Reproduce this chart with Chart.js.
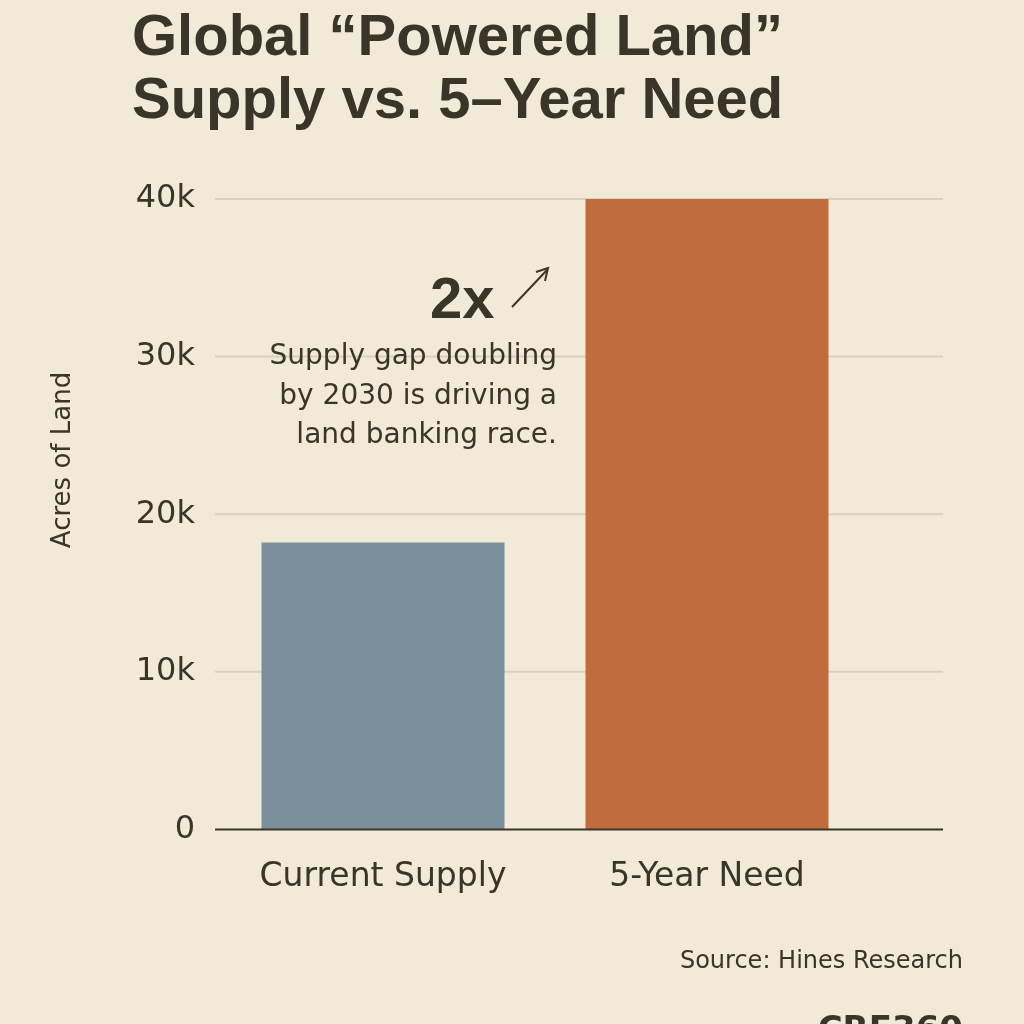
<!DOCTYPE html>
<html><head><meta charset="utf-8">
<script src="https://cdn.jsdelivr.net/npm/chart.js@4"></script>
<style>html,body{margin:0;padding:0;background:#f1ead9;}#w{width:1024px;height:1024px;}</style>
</head><body><div id="w"><canvas id="c" width="1024" height="1024"></canvas></div>
<script>
const categories = ["Current Supply", "5-Year Need"];
const values = [18200, 40000];
const colors = ["#7a8f9b", "#c06c3f"];
const yTicks = [0, 10000, 20000, 30000, 40000];
const tickLabels = {0:"0",10000:"10k",20000:"20k",30000:"30k",40000:"40k"};
const ink = "#3b3428";

const grid = {
  id: "grid",
  beforeDatasetsDraw(ch) {
    const c = ch.ctx, y = ch.scales.y; c.save();
    c.strokeStyle = "#d9d1bf"; c.lineWidth = 2;
    yTicks.forEach(v => { if (v === 0) return; const p = y.getPixelForValue(v);
      c.beginPath(); c.moveTo(215, p); c.lineTo(943, p); c.stroke(); });
    c.restore();
  },
  afterDatasetsDraw(ch) {
    const c = ch.ctx, p = ch.scales.y.getPixelForValue(0); c.save();
    c.strokeStyle = ink; c.lineWidth = 2;
    c.beginPath(); c.moveTo(215, p); c.lineTo(943, p); c.stroke(); c.restore();
  }
};

const deco = {
  id: "deco",
  afterDraw(ch) {
    const c = ch.ctx; c.save();
    c.fillStyle = ink; c.textBaseline = "alphabetic";
    c.font = "bold 58px 'Liberation Sans', Arial, sans-serif";
    c.textAlign = "left";
    c.fillText("Global \u201cPowered Land\u201d", 132, 55);
    c.fillText("Supply vs. 5\u2013Year Need", 132, 118);
    c.font = "bold 58px 'Liberation Sans', Arial, sans-serif";
    c.fillText("2x", 430, 318);
    c.strokeStyle = ink; c.lineWidth = 2;
    c.beginPath(); c.moveTo(512, 307); c.lineTo(547, 270); c.stroke();
    c.beginPath(); c.moveTo(536, 272); c.lineTo(548, 268); c.lineTo(545, 281); c.stroke();
    c.font = "28px 'DejaVu Sans', sans-serif"; c.textAlign = "right";
    c.fillText("Supply gap doubling", 557, 364);
    c.fillText("by 2030 is driving a", 557, 404);
    c.fillText("land banking race.", 557, 443);
    c.font = "24px 'DejaVu Sans', sans-serif";
    c.fillText("Source: Hines Research", 963, 968);
    c.font = "bold 34px 'DejaVu Sans', sans-serif";
    c.fillText("CRE360", 963, 1040);
    c.translate(70, 460); c.rotate(-Math.PI/2); c.textAlign = "center";
    c.font = "26px 'DejaVu Sans', sans-serif";
    c.fillText("Acres of Land", 0, 0);
    c.restore();
  }
};

new Chart(document.getElementById("c"), {
  type: "bar",
  data: { labels: categories, datasets: [{ data: values, backgroundColor: colors, categoryPercentage: 1, barPercentage: 0.75 }] },
  options: {
    responsive: false, animation: false,
    layout: { padding: { top: 199, left: 120, right: 155, bottom: 99 } },
    plugins: { legend: { display: false }, tooltip: { enabled: false } },
    scales: {
      x: {
        grid: { display: false, drawTicks: false },
        border: { display: false },
        ticks: { color: ink, font: { size: 33, family: "'DejaVu Sans', sans-serif" }, padding: 28 }
      },
      y: {
        min: 0, max: 40000,
        afterBuildTicks: s => { s.ticks = yTicks.map(v => ({ value: v })); },
        afterFit: s => { s.width = 101; },
        grid: { display: false, drawTicks: false },
        border: { display: false },
        ticks: { color: ink, padding: 26, font: { size: 32, family: "'DejaVu Sans', sans-serif" }, callback: v => tickLabels[v] }
      }
    }
  },
  plugins: [grid, deco]
});
</script></body></html>
